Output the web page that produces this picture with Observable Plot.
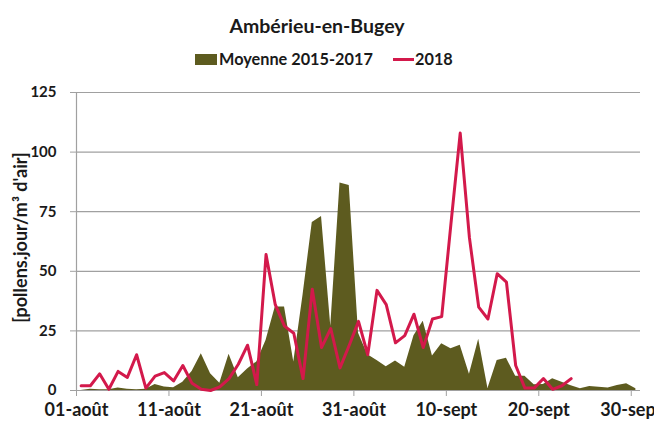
<!DOCTYPE html>
<html><head><meta charset="utf-8">
<script src="https://cdn.jsdelivr.net/npm/d3@7"></script>
<script src="https://cdn.jsdelivr.net/npm/@observablehq/plot@0.6"></script>
<style>
html,body{margin:0;padding:0;background:#fff;overflow:hidden;width:654px;height:423px}
body{font-family:Lato,"Open Sans",sans-serif;font-weight:bold;color:#1a1a1a;position:relative}
#title{position:absolute;left:0;top:14px;width:634px;text-align:center;font-size:19.5px}
.leg{position:absolute;top:49px;font-size:16.3px;line-height:20px}
.sw{position:absolute}
#chart{position:absolute;top:80px;left:0}
</style></head>
<body>
<div id="title">Ambérieu-en-Bugey</div>
<div class="sw" id="sw1" style="left:195px;top:54px;width:22px;height:11px"></div>
<div class="leg" style="left:219px" id="l1"></div>
<div class="sw" id="sw2" style="left:393px;top:58px;width:21px;height:3px"></div>
<div class="leg" style="left:415px" id="l2"></div>
<div id="chart"></div>
<script>
const seriesNames = ["Moyenne 2015-2017", "2018"];
const colors = ["#5d5b1f", "#d3194b"];
const tickLabels = ["01-août","11-août","21-août","31-août","10-sept","20-sept","30-sept"];
const yTicks = [0,25,50,75,100,125];
const yLabel = "[pollens.jour/m³ d'air]";
// daily values from 01-août to 30-sept
const moyenne = [0,0.5,0.3,0.3,1,0.5,0.3,0.5,2.5,1.5,1.2,3.5,8,15.4,7,3,15.2,5.3,9,12,21,35,35,12,40,70.5,73,27,87,86,24,15,12.6,10,12.4,9.8,23,29,14.5,19.6,17.5,19,6.8,21.5,0.8,12.6,13.5,6,6,2.4,2.5,4.9,3.5,2,0.7,1.7,1.4,1.1,2.1,2.8,0.7];
const y2018 = [2,2,7,0.5,8,5.5,15,1,6,7.5,4,10.5,3,0.5,0,1.5,5,11,19,2.5,57,36,27,24,5,42.5,18,26,9.5,19,29,15,42,36,20,23,32,18,30,31,70,108,64,35,30,49,45.5,10.5,1,1,5,0.5,2,5];

document.getElementById("l1").textContent = seriesNames[0];
document.getElementById("l2").textContent = seriesNames[1];
document.getElementById("sw1").style.background = colors[0];
document.getElementById("sw2").style.background = colors[1];

const start = new Date(Date.UTC(2018,7,1));
const end = new Date(Date.UTC(2018,9,1));
const days = d3.utcDays(start, end);
const mid = d => d3.utcHour.offset(d, 12);
const avgData = moyenne.map((v,i) => ({date: mid(days[i]), value: v}));
const data18 = y2018.map((v,i) => ({date: mid(days[i]), value: v}));
const xTicks = tickLabels.map((_,i) => days[i*10]);
const fmt = new Map(xTicks.map((d,i) => [+d, tickLabels[i]]));
const grid = "#a0a0a0";

const chart = Plot.plot({
  width: 654, height: 343,
  marginTop: 12, marginBottom: 33, marginLeft: 76, marginRight: 14,
  style: {fontFamily: "Lato, 'Open Sans', sans-serif", fontSize: "15px", fontWeight: "bold", color: "#1a1a1a", background: "#fff", overflow: "visible"},
  x: {type: "utc", domain: [start, end]},
  y: {domain: [0,125]},
  marks: [
    Plot.gridY(yTicks.filter(t => t > 0), {stroke: grid, strokeOpacity: 1, strokeWidth: 1.2}),
    Plot.areaY(avgData, {x: "date", y: "value", fill: colors[0], curve: "linear"}),
    Plot.ruleY([0], {stroke: grid, strokeWidth: 1.2}),
    Plot.ruleX([start], {y1: 0, y2: 125, stroke: grid, strokeWidth: 1.2}),
    Plot.lineY(data18, {x: "date", y: "value", stroke: colors[1], strokeWidth: 3, strokeLinejoin: "round", curve: "linear"}),
    Plot.axisY({ticks: yTicks, tickSize: 6, tickPadding: 14, stroke: grid, label: null, fontSize: 15, tickFormat: d => String(d)}),
    Plot.axisX({ticks: xTicks, tickSize: 6, tickPadding: 7, stroke: grid, label: null, fontSize: 18, tickFormat: d => fmt.get(+d)}),
    Plot.text([yLabel], {frameAnchor: "left", textAnchor: "middle", rotate: -90, dx: -55, dy: -4, fontSize: 18, fontWeight: "bold", fill: "#1a1a1a"})
  ]
});
document.getElementById("chart").appendChild(chart);
</script>
</body></html>
